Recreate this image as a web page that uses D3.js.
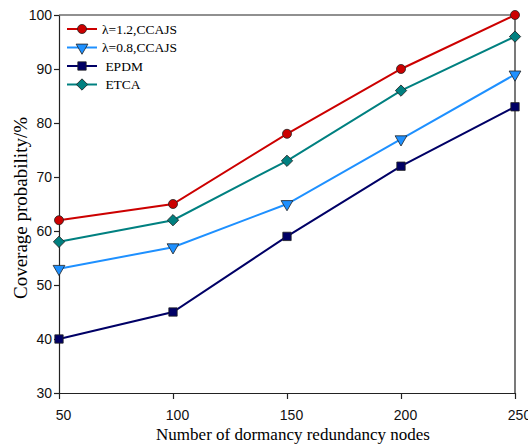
<!DOCTYPE html>
<html lang="en">
<head>
  <meta charset="UTF-8">
  <title>Coverage probability</title>
  <script src="https://d3js.org/d3.v7.min.js"></script>
  <style>
    body { margin: 0; background: #fff; }
  </style>
</head>
<body>
  <script>
    // data
    const nodes = [50, 100, 150, 200, 250];
    const ccajs12 = [62, 65, 78, 90, 100];
    const ccajs08 = [53, 57, 65, 77, 89];
    const epdm = [40, 45, 59, 72, 83];
    const etca = [58, 62, 73, 86, 96];
    const yTicks = [30, 40, 50, 60, 70, 80, 90, 100];

    const series = [
      { name: "\u03bb=1.2,CCAJS", values: ccajs12, color: "#cc0000", marker: "circle" },
      { name: "\u03bb=0.8,CCAJS", values: ccajs08, color: "#1e90ff", marker: "triangle" },
      { name: " EPDM", values: epdm, color: "#000066", marker: "square" },
      { name: " ETCA", values: etca, color: "#008080", marker: "diamond" }
    ];

    const width = 528, height = 446;
    const padLeft = 59, padRight = 515, padTop = 15, padBottom = 393;

    const svg = d3.select("body").append("svg")
      .attr("width", width)
      .attr("height", height);

    const x = d3.scaleLinear().domain([50, 250]).range([padLeft, padRight]);
    const y = d3.scaleLinear().domain([30, 100]).range([padBottom, padTop]);

    // frame (top and right lines)
    svg.append("path")
      .attr("d", `M${padLeft},${padTop}H${padRight}V${padBottom}`)
      .style("fill", "none")
      .style("stroke", "#222")
      .style("stroke-width", 1.2);

    // x axis
    const xAxis = svg.append("g")
      .attr("transform", `translate(0,${padBottom})`)
      .call(d3.axisBottom(x).tickValues(nodes).tickSize(6).tickSizeOuter(0));
    xAxis.selectAll("text")
      .attr("dx", 4)
      .attr("dy", "1.25em")
      .style("font-family", "'Liberation Sans', Arial, sans-serif")
      .style("font-size", "14px")
      .style("fill", "#111");

    // y axis
    const yAxis = svg.append("g")
      .attr("transform", `translate(${padLeft},0)`)
      .call(d3.axisLeft(y).tickValues(yTicks).tickSize(5).tickSizeOuter(0));
    yAxis.selectAll("text")
      .attr("x", -7)
      .style("font-family", "'Liberation Sans', Arial, sans-serif")
      .style("font-size", "14px")
      .style("fill", "#111");

    svg.selectAll(".domain, .tick line")
      .style("stroke", "#222")
      .style("stroke-width", 1.2);

    // axis titles
    svg.append("text")
      .attr("x", 293)
      .attr("y", 440)
      .attr("text-anchor", "middle")
      .style("font-family", "'Liberation Serif', 'Times New Roman', serif")
      .style("font-size", "17px")
      .text("Number of dormancy redundancy nodes");

    svg.append("text")
      .attr("transform", "translate(27,208) rotate(-90)")
      .attr("text-anchor", "middle")
      .style("font-family", "'Liberation Serif', 'Times New Roman', serif")
      .style("font-size", "19px")
      .text("Coverage probability/%");

    // marker shapes (diamond = square turned 45deg)
    const shapes = {
      circle: d3.symbol().type(d3.symbolCircle).size(64),
      square: d3.symbol().type(d3.symbolSquare).size(70),
      diamond: d3.symbol().type(d3.symbolSquare).size(64),
      triangle: d3.symbol().type(d3.symbolTriangle).size(60)
    };
    const turn = { triangle: " rotate(180)", diamond: " rotate(45)" };
    function drawMarker(g, s, cx, cy) {
      g.append("path")
        .attr("d", shapes[s.marker]())
        .attr("transform", `translate(${cx},${cy})` + (turn[s.marker] || ""))
        .style("fill", s.color)
        .style("stroke", "#222")
        .style("stroke-width", 0.8);
    }

    const line = d3.line()
      .x((d, i) => x(nodes[i]))
      .y(d => y(d));

    series.forEach(s => {
      svg.append("path")
        .datum(s.values)
        .attr("d", line)
        .style("fill", "none")
        .style("stroke", s.color)
        .style("stroke-width", 2);
    });
    series.forEach(s => {
      const g = svg.append("g");
      s.values.forEach((v, i) => drawMarker(g, s, x(nodes[i]), y(v)));
    });

    // legend
    const legend = svg.append("g");
    series.forEach((s, i) => {
      const ly = 29 + i * 18.5;
      legend.append("line")
        .attr("x1", 67).attr("x2", 97)
        .attr("y1", ly).attr("y2", ly)
        .style("stroke", s.color)
        .style("stroke-width", 2);
      drawMarker(legend, s, 82, ly);
      legend.append("text")
        .attr("x", 102)
        .attr("y", ly + 4.5)
        .style("font-family", "'Liberation Serif', 'Times New Roman', serif")
        .style("font-size", "13.5px")
        .style("white-space", "pre")
        .text(s.name);
    });
  </script>
</body>
</html>
